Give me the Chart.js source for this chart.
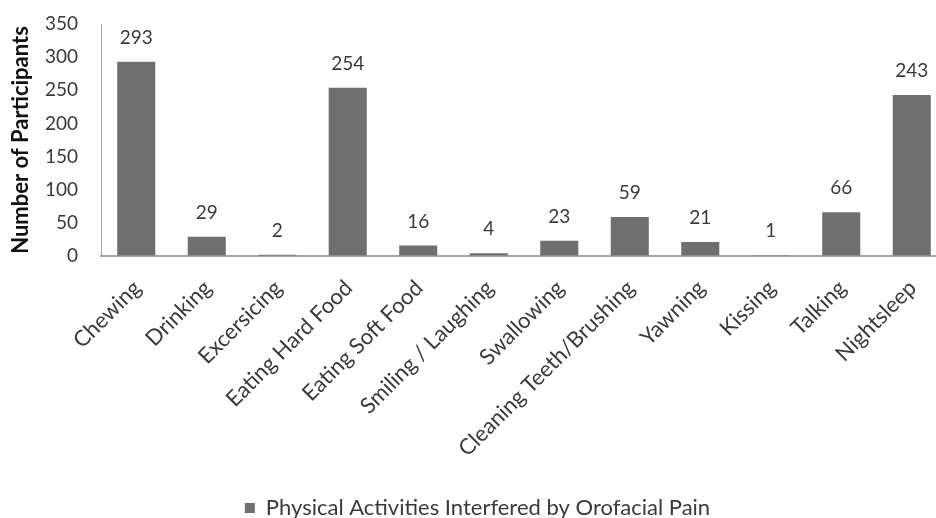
<!DOCTYPE html>
<html>
<head>
<meta charset="utf-8">
<script src="https://cdn.jsdelivr.net/npm/chart.js@4.4.0/dist/chart.umd.min.js"></script>
<style>
    html, body { margin: 0; padding: 0; background: #fff; overflow: hidden; width: 936px; height: 518px; }
    #wrap { width: 956px; height: 529px; }
</style>
</head>
<body>
<div id="wrap"><canvas id="activityChart"></canvas></div>
<script>
// Activities and how many participants said pain interfered with each
const activities = [
    "Chewing", "Drinking", "Excersicing", "Eating Hard Food", "Eating Soft Food",
    "Smiling / Laughing", "Swallowing", "Cleaning Teeth/Brushing", "Yawning",
    "Kissing", "Talking", "Nightsleep"
];
const participantCounts = [293, 29, 2, 254, 16, 4, 23, 59, 21, 1, 66, 243];
const yTickValues = [0, 50, 100, 150, 200, 250, 300, 350];

const seriesName = "Physical Activities Interfered by Orofacial Pain";
const yAxisTitle = "Number of Participants";

const barColor = '#6f6f6f';
const textColor = '#3a3a3a';
const fontFamily = 'Lato, "Open Sans", sans-serif';

/**
 * Writes the count above each bar
 */
const valueLabels = {
    id: 'valueLabels',
    afterDatasetsDraw(chart) {
        let ctx = chart.ctx;
        let meta = chart.getDatasetMeta(0);
        ctx.save();
        ctx.font = '19px ' + fontFamily;
        ctx.fillStyle = textColor;
        ctx.textAlign = 'center';
        ctx.textBaseline = 'middle';
        for (let i = 0; i < meta.data.length; i++) {
            let bar = meta.data[i];
            ctx.fillText(participantCounts[i], bar.x, bar.y - 24);
        }
        ctx.restore();
    }
};

const canvas = document.getElementById("activityChart");
canvas.width = 956;
canvas.height = 529;

const config = {
    type: 'bar',
    data: {
        labels: activities,
        datasets: [{
            label: seriesName,
            data: participantCounts,
            backgroundColor: barColor,
            borderWidth: 0,
            categoryPercentage: 1,
            barPercentage: 0.54
        }]
    },
    options: {
        responsive: false,
        animation: false,
        layout: {
            padding: { top: 24, left: 8, right: 9, bottom: 0 }
        },
        plugins: {
            legend: {
                position: 'bottom',
                labels: {
                    color: textColor,
                    font: { family: fontFamily, size: 22 },
                    boxWidth: 10,
                    boxHeight: 10,
                    padding: 0
                }
            },
            tooltip: { enabled: false }
        },
        scales: {
            x: {
                // invisible tick marks keep the labels away from the axis
                grid: { display: true, drawOnChartArea: false, drawTicks: true, tickLength: 19, tickColor: 'rgba(0,0,0,0)' },
                border: { display: true, color: '#a6a6a6', width: 2 },
                ticks: {
                    color: textColor,
                    font: { family: fontFamily, size: 22 },
                    minRotation: 45,
                    maxRotation: 45,
                    autoSkip: false,
                    padding: 0,
                    labelOffset: 1
                },
                afterFit: function (scale) {
                    scale.height = 241;
                }
            },
            y: {
                min: 0,
                max: 350,
                grid: { display: true, drawOnChartArea: false, drawTicks: true, tickLength: 11, tickColor: 'rgba(0,0,0,0)' },
                border: { display: true, color: '#a6a6a6', width: 1 },
                afterBuildTicks: function (scale) {
                    scale.ticks = yTickValues.map(v => ({ value: v }));
                },
                ticks: {
                    color: textColor,
                    font: { family: fontFamily, size: 19 },
                    padding: 12
                },
                title: {
                    display: true,
                    text: yAxisTitle,
                    color: '#111',
                    font: { family: fontFamily, size: 22, weight: 'bold' },
                    padding: 0
                },
                afterFit: function (scale) {
                    scale.width = 93;
                }
            }
        }
    },
    plugins: [valueLabels]
};

new Chart(canvas, config);
</script>
</body>
</html>
